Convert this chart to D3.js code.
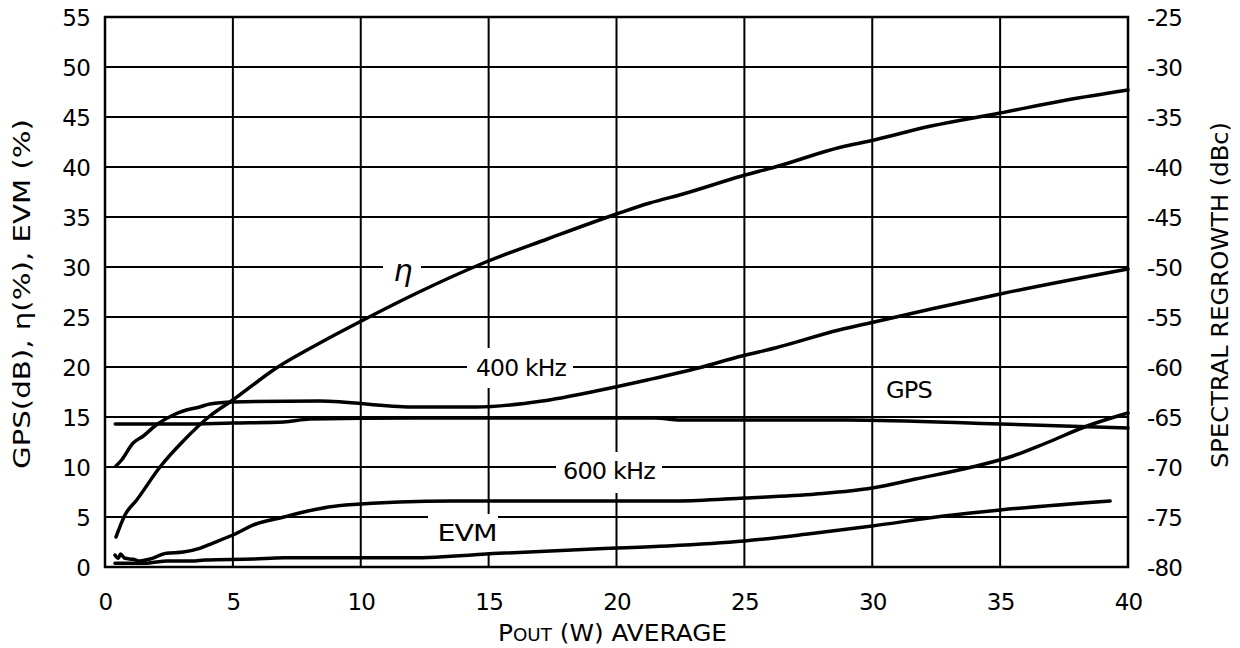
<!DOCTYPE html>
<html><head><meta charset="utf-8">
<script src="https://cdn.jsdelivr.net/npm/d3@7"></script>
<style>
html,body{margin:0;padding:0;background:#fff;}
text{font-family:"DejaVu Sans",sans-serif;fill:#000;}
</style></head>
<body><svg id="c" width="1240" height="648"></svg>
<script>
// ---- data ----
const xTicks = [0,5,10,15,20,25,30,35,40];
const leftTicks = [0,5,10,15,20,25,30,35,40,45,50,55];
const rightTicks = [-80,-75,-70,-65,-60,-55,-50,-45,-40,-35,-30,-25];

const etaX = [0.43,0.78,1.24,2.15,3.06,4.1,5.0,6.7,8.4,10.1,12.2,14.8,17.3,20.0,21.3,22.6,24.9,26.2,28.8,29.9,32.3,35.0,37.6,40];
const etaY = [3.0,5.2,6.7,10.0,12.6,15.1,16.7,19.9,22.4,24.7,27.4,30.4,32.8,35.3,36.4,37.3,39.1,40.0,42.0,42.6,44.1,45.4,46.7,47.7];

const k400X = [0.43,0.65,1.1,1.5,2.0,2.67,3.06,3.7,4.1,5.0,8.4,12.0,14.5,17.1,19.2,21.2,23.2,24.9,26.2,28.7,29.9,32.3,35.0,40];
const k400Y = [-69.9,-69.3,-67.6,-66.9,-65.8,-64.8,-64.4,-64.0,-63.7,-63.5,-63.4,-64.0,-64.0,-63.4,-62.4,-61.3,-60.1,-58.9,-58.1,-56.3,-55.6,-54.2,-52.7,-50.2];

const k600X = [0.39,0.52,0.61,0.78,1.1,1.37,1.76,2.4,3.06,3.7,4.2,5.0,5.9,7.0,7.6,9.4,13.6,22.4,25,27.8,30,31.7,33.9,35.5,36.8,38.4,40];
const k600Y = [-78.8,-79.13,-78.7,-79.13,-79.23,-79.4,-79.2,-78.63,-78.5,-78.13,-77.63,-76.8,-75.7,-75.0,-74.6,-73.8,-73.4,-73.4,-73.1,-72.7,-72.1,-71.2,-70.0,-68.9,-67.6,-65.9,-64.6];

const evmX = [0.39,1.63,2.0,2.4,3.4,3.9,5.8,7.0,12.0,15.4,19.3,22,25,27.4,30,32.8,35,39.3];
const evmY = [0.37,0.37,0.5,0.6,0.6,0.7,0.8,0.93,0.93,1.37,1.83,2.1,2.6,3.27,4.1,5.1,5.7,6.6];

const gpsX = [0.4,3,5,7,8,12,21.5,22.5,29,35,40];
const gpsY = [14.3,14.3,14.4,14.5,14.8,14.9,14.9,14.7,14.7,14.3,13.9];

// ---- layout ----
const W = 1240, H = 648;
const m = {left:105, right:112, top:17, bottom:81};
const iw = W - m.left - m.right, ih = H - m.top - m.bottom;
const svg = d3.select("#c");
const g = svg.append("g").attr("transform",`translate(${m.left},${m.top})`);

const x = d3.scaleLinear().domain([0,40]).range([0,iw]);
const yL = d3.scaleLinear().domain([0,55]).range([ih,0]);
const yR = d3.scaleLinear().domain([-80,-25]).range([ih,0]);

// grid
g.append("g").selectAll("line").data(xTicks).join("line")
  .attr("x1",d=>x(d)).attr("x2",d=>x(d)).attr("y1",0).attr("y2",ih)
  .attr("stroke","#000").attr("stroke-width",2);
g.append("g").selectAll("line").data(leftTicks).join("line")
  .attr("x1",0).attr("x2",iw).attr("y1",d=>yL(d)).attr("y2",d=>yL(d))
  .attr("stroke","#000").attr("stroke-width",2);
g.append("rect").attr("x",0).attr("y",0).attr("width",iw).attr("height",ih)
  .attr("fill","none").attr("stroke","#000").attr("stroke-width",2.5);

// axes (labels only)
const fs = 23, ls = "-0.8px";
const ax = d3.axisBottom(x).tickValues(xTicks).tickSize(0).tickPadding(27);
const gx = g.append("g").attr("transform",`translate(0,${ih})`).call(ax);
const al = d3.axisLeft(yL).tickValues(leftTicks).tickSize(0).tickPadding(15);
const gl = g.append("g").call(al);
const ar = d3.axisRight(yR).tickValues(rightTicks).tickSize(0).tickPadding(19)
  .tickFormat(d=>String(d));
const gr = g.append("g").attr("transform",`translate(${iw},0)`).call(ar);
[gx,gl,gr].forEach(a=>{
  a.select(".domain").remove();
  a.selectAll("text").attr("font-size",fs).attr("letter-spacing",ls)
   .attr("font-family","DejaVu Sans, sans-serif").attr("fill","#000");
});
gl.selectAll("text").attr("dy","0.36em");
gr.selectAll("text").attr("dy","0.36em");

// label background boxes (mask gridlines)
function box(x0,x1,y0,y1){
  g.append("rect").attr("x",x0-m.left).attr("y",y0-m.top).attr("width",x1-x0).attr("height",y1-y0).attr("fill","#fff");
}
box(383,421,255,282);   // eta
box(467,573,348,388);   // 400 kHz
box(556,662,452,493);   // 600 kHz
box(428,498,514,552);   // EVM

// curves
const lineL = d3.line().x(d=>x(d[0])).y(d=>yL(d[1])).curve(d3.curveMonotoneX);
const lineR = d3.line().x(d=>x(d[0])).y(d=>yR(d[1])).curve(d3.curveMonotoneX);
function draw(xs,ys,gen){
  g.append("path").datum(xs.map((v,i)=>[v,ys[i]])).attr("d",gen)
   .attr("fill","none").attr("stroke","#000").attr("stroke-width",3.5)
   .attr("stroke-linejoin","round").attr("stroke-linecap","round");
}
draw(etaX,etaY,lineL);
draw(k400X,k400Y,lineR);
draw(k600X,k600Y,lineR);
draw(evmX,evmY,lineL);
draw(gpsX,gpsY,lineL);

// in-plot labels
function lab(t,px,py,opts={}){
  const el = g.append("text").attr("x",px-m.left).attr("y",py-m.top).attr("text-anchor","middle")
    .attr("dominant-baseline","central").attr("font-size",opts.fs||fs).attr("letter-spacing",opts.ls||ls).text(t);
  if(opts.family) el.attr("font-family",opts.family);
  if(opts.style) el.attr("font-style",opts.style);
  if(opts.len) el.attr("textLength",opts.len).attr("lengthAdjust","spacingAndGlyphs");
  return el;
}
lab("η",403,270,{fs:30,family:"DejaVu Serif",ls:"0px",style:"italic"});
lab("400 kHz",521,368,{len:90});
lab("600 kHz",609,471,{len:92});
lab("EVM",467,533,{len:59});
lab("GPS",909,390,{len:46});

// axis titles
const xt = svg.append("text").attr("x",498).attr("y",633)
  .attr("dominant-baseline","central").attr("font-size",fs)
  .attr("textLength",229).attr("lengthAdjust","spacingAndGlyphs");
xt.append("tspan").text("P");
xt.append("tspan").attr("font-size",17).attr("dy","2").text("OUT");
xt.append("tspan").attr("dy","-2").text(" (W) AVERAGE");

svg.append("text").attr("transform","translate(22,294) rotate(-90)").attr("text-anchor","middle")
  .attr("dominant-baseline","central").attr("font-size",fs)
  .attr("textLength",350).attr("lengthAdjust","spacingAndGlyphs")
  .text("GPS(dB),  η(%), EVM (%)");
svg.append("text").attr("transform","translate(1220,295) rotate(-90)").attr("text-anchor","middle")
  .attr("dominant-baseline","central").attr("font-size",fs)
  .attr("textLength",346).attr("lengthAdjust","spacingAndGlyphs")
  .text("SPECTRAL REGROWTH (dBc)");
</script></body></html>
